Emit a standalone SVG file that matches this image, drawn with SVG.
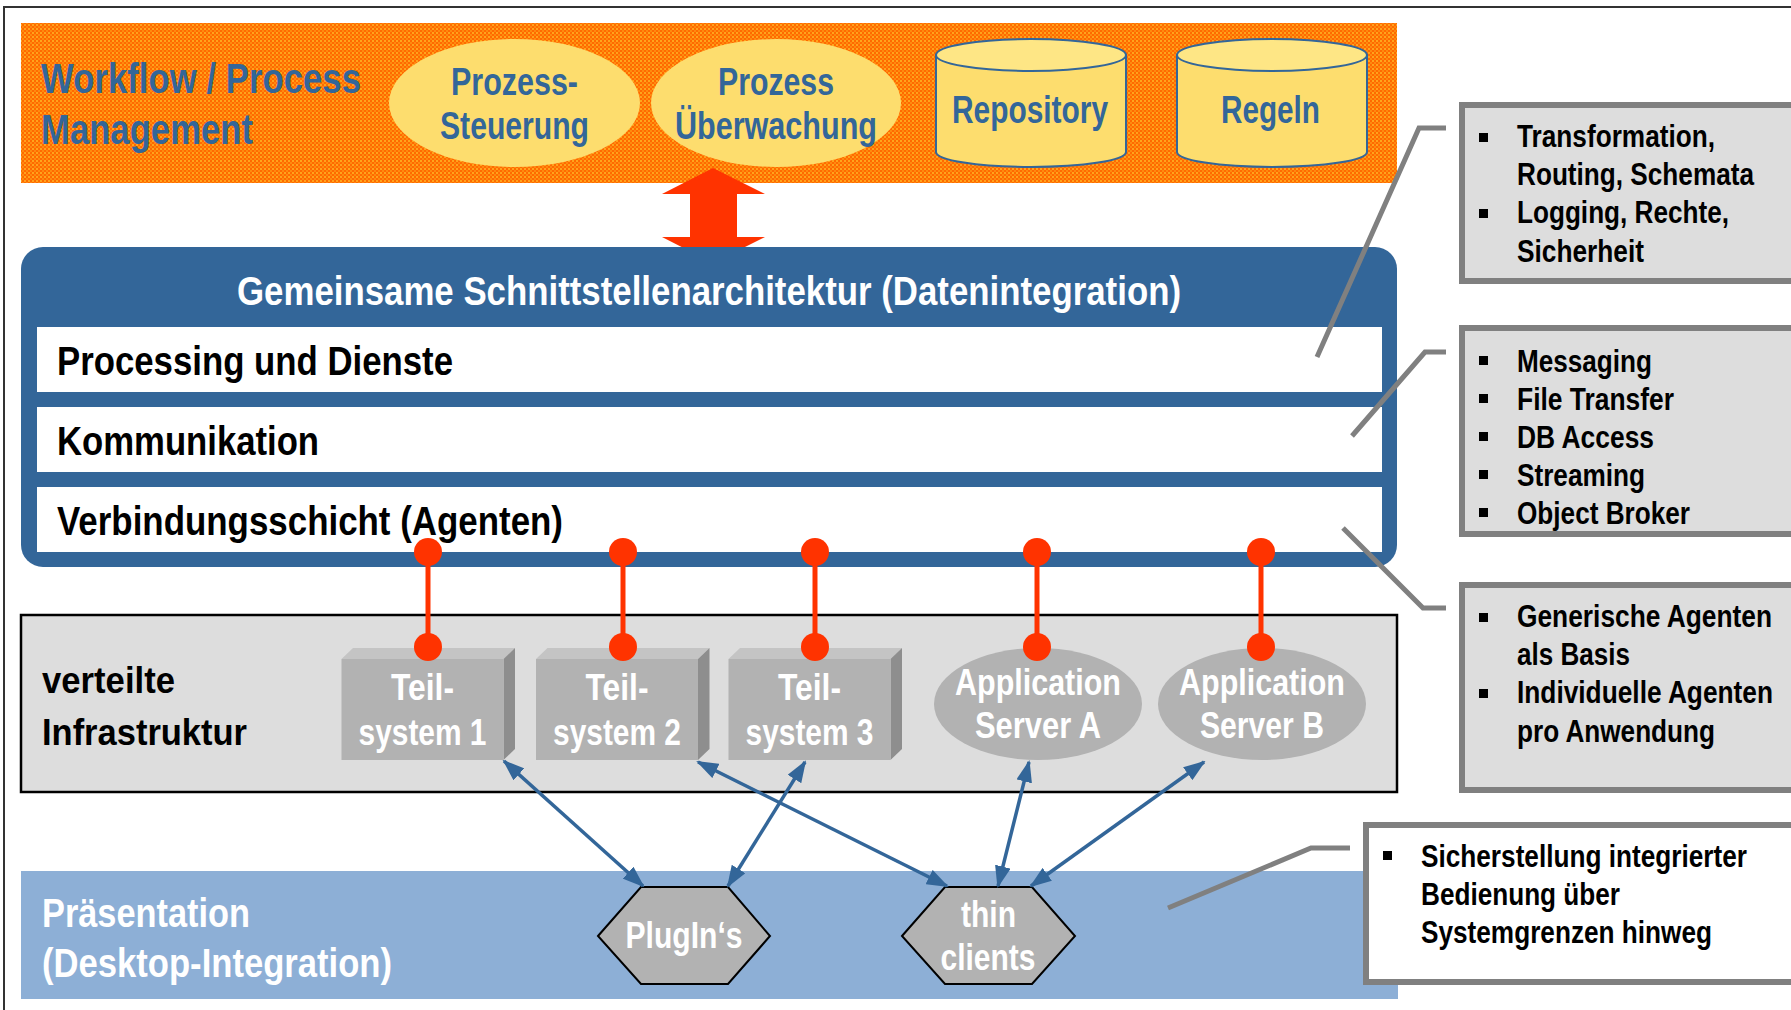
<svg xmlns="http://www.w3.org/2000/svg" width="1791" height="1010" viewBox="0 0 1791 1010">
<style>
text{font-family:"Liberation Sans Narrow","Arial Narrow","Liberation Sans",Arial,sans-serif;font-weight:bold}
.blu{fill:#336699}
.wht{fill:#ffffff}
.blk{fill:#000000}
.yel{fill:#FDDD6E}
.cyl{fill:#FDDD6E;stroke:#336699;stroke-width:2}
.cyltop{fill:#FEE685;stroke:#336699;stroke-width:2}
.gf{fill:#B2B2B2}
.gt{fill:#C4C4C4}
.gs{fill:#8E8E8E}
.hex{fill:#B2B2B2;stroke:#000;stroke-width:2}
.pin{stroke:#FF3300;stroke-width:5}
.dot{fill:#FF3300}
.arr{stroke:#336699;stroke-width:3.5;fill:none;marker-start:url(#ah);marker-end:url(#ah)}
.lead{stroke:#808080;stroke-width:5;fill:none}
.cbox{fill:#DDDDDD;stroke:#808080;stroke-width:6}
.cboxw{fill:#FFFFFF;stroke:#808080;stroke-width:6}
.bul{fill:#000}
</style>
<defs>
<pattern id="org" width="4" height="4" patternUnits="userSpaceOnUse">
<rect width="4" height="4" fill="#FF6A00"/>
<rect x="0" y="0" width="2" height="2" fill="#FFA41C"/>
<rect x="2" y="2" width="2" height="2" fill="#FF8A0E"/>
</pattern>
<marker id="ah" viewBox="0 0 22 16" refX="20" refY="8" markerWidth="22" markerHeight="16" markerUnits="userSpaceOnUse" orient="auto-start-reverse">
<path d="M0,0 L22,8 L0,16 z" fill="#336699"/>
</marker>
</defs>
<rect width="1791" height="1010" fill="#ffffff"/>
<rect x="4" y="7" width="1800" height="1010" fill="none" stroke="#333" stroke-width="2"/>

<g id="workflow">
<rect x="21" y="23" width="1376" height="160" fill="url(#org)"/>
<text class="blu" x="41" y="93" font-size="42" textLength="320" lengthAdjust="spacingAndGlyphs">Workflow / Process</text>
<text class="blu" x="41" y="144" font-size="42" textLength="212" lengthAdjust="spacingAndGlyphs">Management</text>
</g>
<g id="prozess-steuerung">
<ellipse class="yel" cx="514.5" cy="103" rx="125.5" ry="64"/>
<text class="blu" x="451" y="95" font-size="38" textLength="127" lengthAdjust="spacingAndGlyphs">Prozess-</text>
<text class="blu" x="440" y="139" font-size="38" textLength="149" lengthAdjust="spacingAndGlyphs">Steuerung</text>
</g>
<g id="prozess-ueberwachung">
<ellipse class="yel" cx="776" cy="103" rx="125" ry="64"/>
<text class="blu" x="718" y="95" font-size="38" textLength="116" lengthAdjust="spacingAndGlyphs">Prozess</text>
<text class="blu" x="675" y="139" font-size="38" textLength="202" lengthAdjust="spacingAndGlyphs">Überwachung</text>
</g>
<g id="repository">
<path class="cyl" d="M936,55 L936,152 A95,15 0 0 0 1126,152 L1126,55 z"/>
<ellipse class="cyltop" cx="1031" cy="55" rx="95" ry="16"/>
<text class="blu" x="952" y="123" font-size="38" textLength="156" lengthAdjust="spacingAndGlyphs">Repository</text>
</g>
<g id="regeln">
<path class="cyl" d="M1177,55 L1177,152 A95,15 0 0 0 1367,152 L1367,55 z"/>
<ellipse class="cyltop" cx="1272" cy="55" rx="95" ry="16"/>
<text class="blu" x="1221" y="123" font-size="38" textLength="99" lengthAdjust="spacingAndGlyphs">Regeln</text>
</g>

<g id="red-double-arrow">
<polygon points="713,168 765,194 737,194 737,237 765,237 713,263 662,237 690,237 690,194 662,194" fill="#FF3300"/>
</g>

<g id="schnittstellenarchitektur">
<rect x="21" y="247" width="1376" height="320" rx="22" ry="22" fill="#336699"/>
<text class="wht" x="237" y="305" font-size="40" textLength="944" lengthAdjust="spacingAndGlyphs">Gemeinsame Schnittstellenarchitektur (Datenintegration)</text>
</g>
<g id="processing">
<rect x="37" y="327" width="1345" height="65" fill="#fff"/>
<text class="blk" x="57" y="375" font-size="40" textLength="396" lengthAdjust="spacingAndGlyphs">Processing und Dienste</text>
</g>
<g id="kommunikation">
<rect x="37" y="407" width="1345" height="65" fill="#fff"/>
<text class="blk" x="57" y="455" font-size="40" textLength="262" lengthAdjust="spacingAndGlyphs">Kommunikation</text>
</g>
<g id="verbindungsschicht">
<rect x="37" y="487" width="1345" height="65" fill="#fff"/>
<text class="blk" x="57" y="535" font-size="40" textLength="506" lengthAdjust="spacingAndGlyphs">Verbindungsschicht (Agenten)</text>
</g>

<g id="infrastruktur">
<rect x="21" y="615" width="1376" height="177" fill="#DDDDDD" stroke="#000" stroke-width="2.5"/>
<text class="blk" x="42" y="693" font-size="36" textLength="133" lengthAdjust="spacingAndGlyphs">verteilte</text>
<text class="blk" x="42" y="745" font-size="36" textLength="205" lengthAdjust="spacingAndGlyphs">Infrastruktur</text>
</g>
<g id="teilsystem1">
<polygon class="gt" points="341.5,659 353,648 515,648 503.5,659"/>
<polygon class="gs" points="503.5,659 515,648 515,749 503.5,760"/>
<rect class="gf" x="341.5" y="659" width="162" height="101"/>
<text class="wht" x="391" y="700" font-size="36" textLength="63" lengthAdjust="spacingAndGlyphs">Teil-</text>
<text class="wht" x="358.5" y="745" font-size="36" textLength="128" lengthAdjust="spacingAndGlyphs">system 1</text>
</g>
<g id="teilsystem2">
<polygon class="gt" points="536,659 547.5,648 709.5,648 698,659"/>
<polygon class="gs" points="698,659 709.5,648 709.5,749 698,760"/>
<rect class="gf" x="536" y="659" width="162" height="101"/>
<text class="wht" x="585.5" y="700" font-size="36" textLength="63" lengthAdjust="spacingAndGlyphs">Teil-</text>
<text class="wht" x="553" y="745" font-size="36" textLength="128" lengthAdjust="spacingAndGlyphs">system 2</text>
</g>
<g id="teilsystem3">
<polygon class="gt" points="728.5,659 740,648 902,648 890.5,659"/>
<polygon class="gs" points="890.5,659 902,648 902,749 890.5,760"/>
<rect class="gf" x="728.5" y="659" width="162" height="101"/>
<text class="wht" x="778" y="700" font-size="36" textLength="63" lengthAdjust="spacingAndGlyphs">Teil-</text>
<text class="wht" x="745.5" y="745" font-size="36" textLength="128" lengthAdjust="spacingAndGlyphs">system 3</text>
</g>
<g id="appserver-a">
<ellipse class="gf" cx="1038" cy="704" rx="104" ry="56"/>
<text class="wht" x="955" y="695" font-size="36" textLength="166" lengthAdjust="spacingAndGlyphs">Application</text>
<text class="wht" x="975" y="738" font-size="36" textLength="126" lengthAdjust="spacingAndGlyphs">Server A</text>
</g>
<g id="appserver-b">
<ellipse class="gf" cx="1262" cy="704" rx="104" ry="56"/>
<text class="wht" x="1179" y="695" font-size="36" textLength="166" lengthAdjust="spacingAndGlyphs">Application</text>
<text class="wht" x="1200" y="738" font-size="36" textLength="124" lengthAdjust="spacingAndGlyphs">Server B</text>
</g>

<g id="praesentation">
<rect x="21" y="871" width="1377" height="128" fill="#8DAFD6"/>
<text class="wht" x="42" y="927" font-size="40" textLength="208" lengthAdjust="spacingAndGlyphs">Präsentation</text>
<text class="wht" x="42" y="977" font-size="40" textLength="350" lengthAdjust="spacingAndGlyphs">(Desktop-Integration)</text>
</g>
<g id="plugins">
<polygon class="hex" points="598,936 641,887 728,887 770,936 728,984 641,984"/>
<text class="wht" x="625.5" y="948" font-size="36" textLength="117" lengthAdjust="spacingAndGlyphs">PlugIn‘s</text>
</g>
<g id="thin-clients">
<polygon class="hex" points="902,936 945,887 1032,887 1075,936 1032,984 945,984"/>
<text class="wht" x="961" y="927" font-size="36" textLength="55" lengthAdjust="spacingAndGlyphs">thin</text>
<text class="wht" x="940.5" y="970" font-size="36" textLength="95" lengthAdjust="spacingAndGlyphs">clients</text>
</g>

<g id="connectors">
<line class="pin" x1="428" y1="552" x2="428" y2="647"/>
<line class="pin" x1="623" y1="552" x2="623" y2="647"/>
<line class="pin" x1="815" y1="552" x2="815" y2="647"/>
<line class="pin" x1="1037" y1="552" x2="1037" y2="647"/>
<line class="pin" x1="1261" y1="552" x2="1261" y2="647"/>
<circle class="dot" cx="428" cy="552" r="14"/>
<circle class="dot" cx="623" cy="552" r="14"/>
<circle class="dot" cx="815" cy="552" r="14"/>
<circle class="dot" cx="1037" cy="552" r="14"/>
<circle class="dot" cx="1261" cy="552" r="14"/>
<circle class="dot" cx="428" cy="647" r="14"/>
<circle class="dot" cx="623" cy="647" r="14"/>
<circle class="dot" cx="815" cy="647" r="14"/>
<circle class="dot" cx="1037" cy="647" r="14"/>
<circle class="dot" cx="1261" cy="647" r="14"/>
<line class="arr" x1="504" y1="761" x2="643" y2="886"/>
<line class="arr" x1="698" y1="762" x2="947" y2="886"/>
<line class="arr" x1="805" y1="762" x2="728" y2="886"/>
<line class="arr" x1="1029" y1="762" x2="998" y2="886"/>
<line class="arr" x1="1204" y1="762" x2="1031" y2="886"/>
<polyline class="lead" points="1446,128 1419,128 1317,357"/>
<polyline class="lead" points="1446,352 1425,352 1352,436"/>
<polyline class="lead" points="1446,608 1423,608 1343,528"/>
<polyline class="lead" points="1350,848 1311,848 1168,908"/>
</g>

<g id="callout-processing">
<rect class="cbox" x="1462" y="105" width="400" height="176"/>
<rect class="bul" x="1479" y="133" width="9" height="9"/>
<rect class="bul" x="1479" y="209" width="9" height="9"/>
<text class="blk" x="1517" y="147" font-size="32" textLength="198" lengthAdjust="spacingAndGlyphs">Transformation,</text>
<text class="blk" x="1517" y="185" font-size="32" textLength="237" lengthAdjust="spacingAndGlyphs">Routing, Schemata</text>
<text class="blk" x="1517" y="223" font-size="32" textLength="212" lengthAdjust="spacingAndGlyphs">Logging, Rechte,</text>
<text class="blk" x="1517" y="262" font-size="32" textLength="127" lengthAdjust="spacingAndGlyphs">Sicherheit</text>
</g>
<g id="callout-kommunikation">
<rect class="cbox" x="1462" y="328" width="400" height="206"/>
<rect class="bul" x="1479" y="356" width="9" height="9"/>
<rect class="bul" x="1479" y="394" width="9" height="9"/>
<rect class="bul" x="1479" y="432" width="9" height="9"/>
<rect class="bul" x="1479" y="470" width="9" height="9"/>
<rect class="bul" x="1479" y="508" width="9" height="9"/>
<text class="blk" x="1517" y="372" font-size="32" textLength="135" lengthAdjust="spacingAndGlyphs">Messaging</text>
<text class="blk" x="1517" y="410" font-size="32" textLength="157" lengthAdjust="spacingAndGlyphs">File Transfer</text>
<text class="blk" x="1517" y="448" font-size="32" textLength="137" lengthAdjust="spacingAndGlyphs">DB Access</text>
<text class="blk" x="1517" y="486" font-size="32" textLength="128" lengthAdjust="spacingAndGlyphs">Streaming</text>
<text class="blk" x="1517" y="524" font-size="32" textLength="173" lengthAdjust="spacingAndGlyphs">Object Broker</text>
</g>
<g id="callout-agenten">
<rect class="cbox" x="1462" y="585" width="400" height="205"/>
<rect class="bul" x="1479" y="613" width="9" height="9"/>
<rect class="bul" x="1479" y="689" width="9" height="9"/>
<text class="blk" x="1517" y="627" font-size="32" textLength="255" lengthAdjust="spacingAndGlyphs">Generische Agenten</text>
<text class="blk" x="1517" y="665" font-size="32" textLength="113" lengthAdjust="spacingAndGlyphs">als Basis</text>
<text class="blk" x="1517" y="703" font-size="32" textLength="256" lengthAdjust="spacingAndGlyphs">Individuelle Agenten</text>
<text class="blk" x="1517" y="742" font-size="32" textLength="198" lengthAdjust="spacingAndGlyphs">pro Anwendung</text>
</g>
<g id="callout-praesentation">
<rect class="cboxw" x="1366" y="825" width="500" height="157"/>
<rect class="bul" x="1383" y="851" width="9" height="9"/>
<text class="blk" x="1421" y="867" font-size="32" textLength="326" lengthAdjust="spacingAndGlyphs">Sicherstellung integrierter</text>
<text class="blk" x="1421" y="905" font-size="32" textLength="199" lengthAdjust="spacingAndGlyphs">Bedienung über</text>
<text class="blk" x="1421" y="943" font-size="32" textLength="291" lengthAdjust="spacingAndGlyphs">Systemgrenzen hinweg</text>
</g>
</svg>
